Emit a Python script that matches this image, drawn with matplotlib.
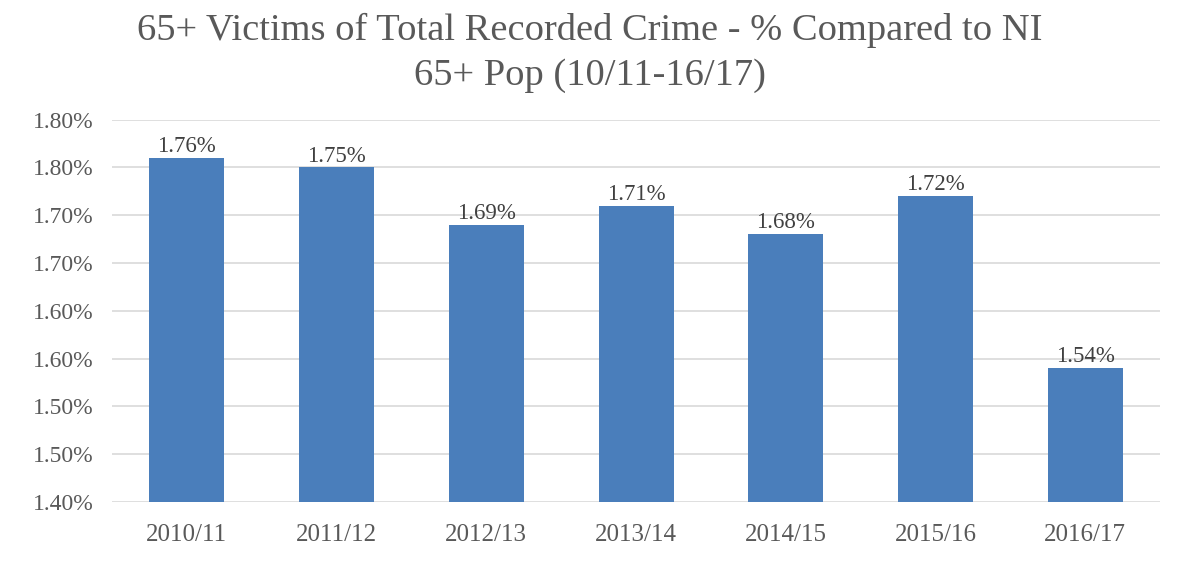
import matplotlib
matplotlib.use("Agg")
from matplotlib import pyplot as plt

years = ['2010/11', '2011/12', '2012/13', '2013/14', '2014/15', '2015/16', '2016/17']
values = [1.76, 1.75, 1.69, 1.71, 1.68, 1.72, 1.54]
yticks = [1.40, 1.45, 1.50, 1.55, 1.60, 1.65, 1.70, 1.75, 1.80]
yticklabels = ['1.40%', '1.50%', '1.50%', '1.60%', '1.60%', '1.70%', '1.70%', '1.80%', '1.80%']

plt.rcParams['font.family'] = ['Liberation Serif', 'DejaVu Serif']
textGrey = '#595959'

fig = plt.figure(figsize=(11.79, 5.62), dpi=100)
ax = fig.add_axes([0.095, 0.107, 0.889, 0.68])

xs = list(range(len(years)))
bars = ax.bar(xs, values, width=0.5, color='#4a7ebb', zorder=3)
for x, v in zip(xs, values):
    ax.text(x, v + 0.001, '%.2f%%' % v, ha='center', va='bottom',
            fontsize=16.5, color='#404040', zorder=4)

ax.set_xlim(-0.5, len(years) - 0.5)
ax.set_ylim(1.40, 1.80)
ax.set_yticks(yticks)
ax.set_yticklabels(yticklabels)
ax.set_xticks(xs)
ax.set_xticklabels(years)
ax.tick_params(axis='both', length=0, labelcolor=textGrey)
ax.tick_params(axis='y', pad=13, labelsize=17)
ax.tick_params(axis='x', pad=16, labelsize=18)
ax.yaxis.grid(True, color='#d9d9d9', linewidth=1.2, zorder=0)
for s in ax.spines.values():
    s.set_visible(False)

fig.text(0.5, 0.945, '65+ Victims of Total Recorded Crime - % Compared to NI',
         ha='center', va='center', fontsize=27.7, color=textGrey)
fig.text(0.5, 0.865, '65+ Pop (10/11-16/17)',
         ha='center', va='center', fontsize=27.7, color=textGrey)

fig.savefig('out.png', dpi=100, facecolor='white')
